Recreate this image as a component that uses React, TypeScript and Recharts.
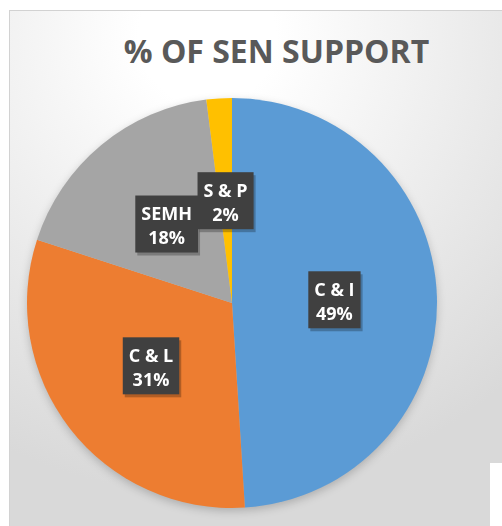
import React from 'react';
import { PieChart, Pie, Cell } from 'recharts';

const categories = ['C & I', 'C & L', 'SEMH', 'S & P'];
const shares = [49, 31, 18, 2];
const colors = ['#5B9BD5', '#ED7D31', '#A5A5A5', '#FFC000'];

const data = categories.map((name, i) => ({ name, value: shares[i] }));

const RADIAN = Math.PI / 180;
const labelFont = 'bold 18px "Open Sans"';

let ctx: CanvasRenderingContext2D | null = null;
const textWidth = (s: string) => {
  if (!ctx) ctx = document.createElement('canvas').getContext('2d');
  if (!ctx) return s.length * 10;
  ctx.font = labelFont;
  return ctx.measureText(s).width;
};

// dark callout box with name + percent, placed halfway out along the slice
const renderLabel = (props: any) => {
  const { cx, cy, midAngle, outerRadius, name, percent } = props;
  const r = outerRadius * 0.5;
  const x = cx + r * Math.cos(-midAngle * RADIAN);
  const y = cy + r * Math.sin(-midAngle * RADIAN);
  const pct = `${Math.round(percent * 100)}%`;
  const w = Math.max(textWidth(name), textWidth(pct)) + 12;
  const h = 57;
  return (
    <g>
      <rect x={x - w / 2 + 2} y={y - h / 2 + 3} width={w} height={h} fill="rgba(0,0,0,0.25)" />
      <rect x={x - w / 2} y={y - h / 2} width={w} height={h} fill="#404040" />
      <text x={x} y={y - 4} textAnchor="middle" fill="#fff"
        style={{ font: labelFont }}>{name}</text>
      <text x={x} y={y + 20} textAnchor="middle" fill="#fff"
        style={{ font: labelFont }}>{pct}</text>
    </g>
  );
};

export default function App() {
  return (
    <div style={{ position: 'absolute', left: 0, top: 0, width: 502, height: 526, background: '#fff', overflow: 'hidden' }}>
      <div style={{
        position: 'absolute', left: 9, top: 10, width: 493, height: 516,
        borderTop: '1px solid #d2d2d2', borderLeft: '1px solid #d2d2d2',
        background: 'radial-gradient(circle at 40% 5%, #ffffff 0%, #ffffff 12%, #d9d9d9 80%)',
      }} />
      <div style={{ position: 'absolute', left: 490, top: 463, width: 12, height: 63, background: '#fff' }} />
      <div style={{
        position: 'absolute', left: 0, top: 29, width: 553, textAlign: 'center',
        font: 'bold 32px "Open Sans"', color: '#595959',
      }}>% OF SEN SUPPORT</div>
      <div style={{ position: 'absolute', left: 0, top: 0 }}>
        <PieChart width={502} height={526} margin={{ top: 0, right: 0, bottom: 0, left: 0 }}
          style={{ filter: 'drop-shadow(0 3px 4px rgba(0,0,0,0.2))' }}>
          <Pie
            data={data}
            dataKey="value"
            nameKey="name"
            cx={232}
            cy={303}
            outerRadius={205}
            startAngle={90}
            endAngle={-270}
            stroke="none"
            label={renderLabel}
            labelLine={false}
            isAnimationActive={false}
          >
            {data.map((d, i) => (
              <Cell key={d.name} fill={colors[i]} />
            ))}
          </Pie>
        </PieChart>
      </div>
    </div>
  );
}
